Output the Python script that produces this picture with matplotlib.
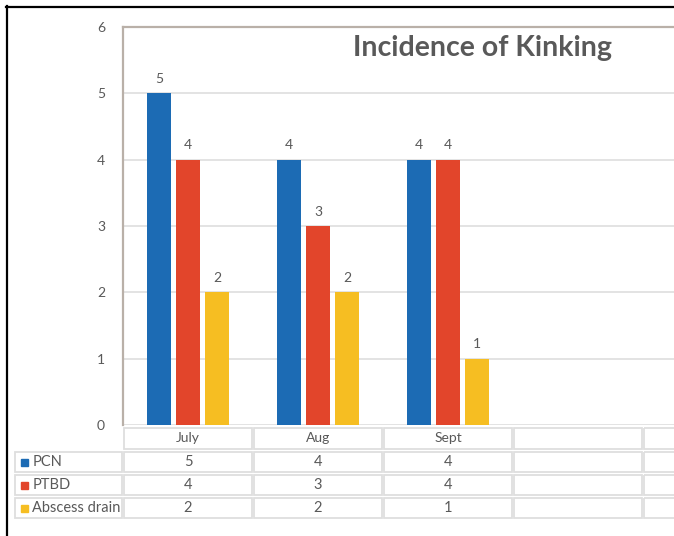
import matplotlib.pyplot as plt
from matplotlib.lines import Line2D
from matplotlib.patches import Rectangle

categories = ["July", "Aug", "Sept", "", ""]
pcn = [5, 4, 4]
ptbd = [4, 3, 4]
abscess = [2, 2, 1]
series_names = ["PCN", "PTBD", "Abscess drain"]
colors = ["#1c6bb4", "#e2452b", "#f6be22"]
y_ticks = [0, 1, 2, 3, 4, 5, 6]

W, H = 674, 536
TXT = "#595959"
GRID = "#dedede"


def fx(px):
    return px / W


def fy(py):
    return 1 - py / H


plt.rcParams["font.family"] = ["Lato", "DejaVu Sans"]

fig = plt.figure(figsize=(W / 100, H / 100), dpi=100)

# main plot area, extends past the right edge like the source
ax = fig.add_axes([fx(123), fy(425), 650 / W, (425 - 27) / H])
ax.set_xlim(-0.5, len(categories) - 0.5)
ax.set_ylim(0, 6)

values = [pcn, ptbd, abscess]
offsets = [-0.223, 0, 0.223]
for vals, off, col in zip(values, offsets, colors):
    xs = [i + off for i in range(len(vals))]
    bars = ax.bar(xs, vals, width=0.18, color=col, zorder=3)
    for b, v in zip(bars, vals):
        ax.annotate(str(v), (b.get_x() + b.get_width() / 2, v),
                    xytext=(0, 6), textcoords="offset points",
                    ha="center", va="bottom", fontsize=10, color=TXT)

ax.set_yticks(y_ticks)
ax.set_xticks([])
ax.tick_params(axis="y", length=0, pad=13, labelsize=10, labelcolor=TXT)
ax.grid(axis="y", color=GRID, lw=1.2, zorder=0)
for s in ["left", "top", "right"]:
    ax.spines[s].set_color("#b9b0a8")
    ax.spines[s].set_linewidth(1.6)
ax.spines["bottom"].set_visible(False)

fig.text(fx(482), fy(48), "Incidence of Kinking", ha="center", va="center",
         fontsize=20.5, fontweight="bold", color=TXT)

# data table below the plot, columns share the category x scale
tab = fig.add_axes([fx(123), fy(520), 650 / W, (520 - 425) / H])
tab.set_xlim(-0.5, len(categories) - 0.5)
tab.set_ylim(520, 425)
tab.axis("off")

row_tops = [427, 451, 474, 497]
row_h = [23, 22, 22, 22]
label_left = -0.5 - (123 - 14) / 130


def cell(x0, x1, y0, h):
    tab.add_patch(Rectangle((x0 + 0.006, y0 + 1), x1 - x0 - 0.012, h - 2,
                            fill=False, ec=GRID, lw=1.3, clip_on=False))


for i, name in enumerate(categories):
    cell(i - 0.5, i + 0.5, row_tops[0], row_h[0])
    tab.text(i, row_tops[0] + row_h[0] / 2, name, ha="center", va="center",
             fontsize=10, color=TXT, clip_on=False)

for r, (name, vals, col) in enumerate(zip(series_names, values, colors)):
    y0 = row_tops[r + 1]
    h = row_h[r + 1]
    cell(label_left, -0.5, y0, h)
    tab.add_patch(Rectangle((label_left + 0.05, y0 + h / 2 - 3.5), 0.055, 7,
                            color=col, clip_on=False))
    tab.text(label_left + 0.14, y0 + h / 2, name, ha="left", va="center",
             fontsize=10.5, color=TXT, clip_on=False)
    for i in range(len(categories)):
        cell(i - 0.5, i + 0.5, y0, h)
        if i < len(vals):
            tab.text(i, y0 + h / 2, str(vals[i]), ha="center", va="center",
                     fontsize=10.5, color=TXT, clip_on=False)

# outer black frame (top and left)
fig.add_artist(Line2D([fx(6), 1], [fy(7), fy(7)], color="black", lw=1.6))
fig.add_artist(Line2D([fx(7), fx(7)], [fy(6), 0], color="black", lw=1.6))

fig.savefig("out.png", dpi=100)
